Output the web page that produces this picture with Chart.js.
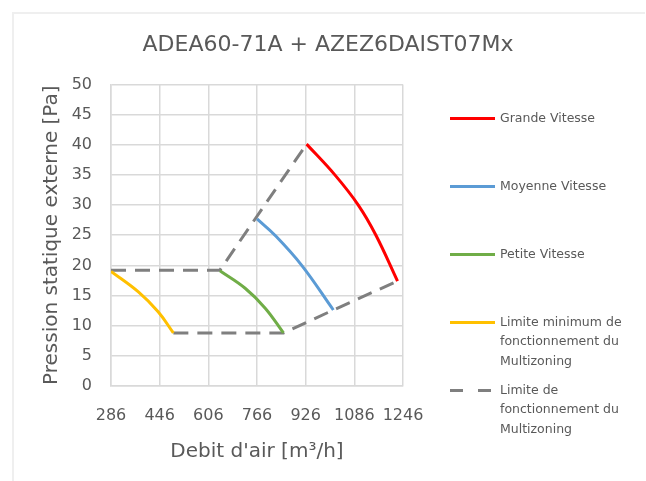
<!DOCTYPE html>
<html>
<head>
<meta charset="utf-8">
<script src="https://cdn.jsdelivr.net/npm/chart.js@4/dist/chart.umd.min.js"></script>
<style>
  html, body { margin: 0; padding: 0; background: #ffffff; }
  #wrap { position: relative; width: 646px; height: 481px; overflow: hidden; }
  #frame { position: absolute; left: 12px; top: 12px; width: 631px; height: 480px;
           border-top: 2px solid #efefef; border-left: 2px solid #efefef; }
  #c { position: absolute; left: 0; top: 0; }
</style>
</head>
<body>
<div id="wrap">
  <div id="frame"></div>
  <canvas id="c" width="646" height="481"></canvas>
</div>
<script>
// ---- data ----
const chartTitle = 'ADEA60-71A + AZEZ6DAIST07Mx';
const xAxisTitle = 'Debit d\'air [m³/h]';
const yAxisTitle = 'Pression statique externe [Pa]';
const xTickValues = [286, 446, 606, 766, 926, 1086, 1246];
const yTickValues = [0, 5, 10, 15, 20, 25, 30, 35, 40, 45, 50];

const grandeX = [929, 1022, 1099, 1157, 1228];
const grandeY = [40.1, 35.0, 30.0, 25.0, 17.4];
const moyenneX = [766, 825, 913, 1017];
const moyenneY = [27.7, 25.0, 20.0, 12.6];
const petiteX = [644, 727, 793, 853];
const petiteY = [19.1, 16.2, 12.9, 8.8];
const minimumX = [286, 376, 441, 491];
const minimumY = [19.0, 15.6, 12.3, 8.8];
const limiteHautX = [286, 644, 929];
const limiteHautY = [19.2, 19.2, 40.1];
const limiteBasX = [491, 853, 1017, 1228];
const limiteBasY = [8.8, 8.8, 12.6, 17.4];

const seriesLabels = [
  'Grande Vitesse',
  'Moyenne Vitesse',
  'Petite Vitesse',
  'Limite minimum de\nfonctionnement du\nMultizoning',
  'Limite de\nfonctionnement du\nMultizoning'
];

const textColor = '#595959';
const gridColor = '#d9d9d9';
const FONT = '"DejaVu Sans", sans-serif';

function pts(xs, ys) { return xs.map((x, i) => ({ x: x, y: ys[i] })); }

function curve(label, xs, ys, color) {
  return {
    label: label, data: pts(xs, ys), borderColor: color, backgroundColor: color,
    borderWidth: 3, pointRadius: 0, showLine: true, fill: false,
    tension: 0.4, yAxisID: 'y', xAxisID: 'x'
  };
}
function dashed(label, xs, ys, legend) {
  return {
    label: label, data: pts(xs, ys), borderColor: '#7f7f7f', backgroundColor: '#7f7f7f',
    borderWidth: 3, borderDash: [15, 9], pointRadius: 0, showLine: true, fill: false,
    tension: 0, inLegend: legend, yAxisID: 'y', xAxisID: 'x'
  };
}

const datasets = [
  curve(seriesLabels[0], grandeX, grandeY, '#ff0000'),
  curve(seriesLabels[1], moyenneX, moyenneY, '#5b9bd5'),
  curve(seriesLabels[2], petiteX, petiteY, '#70ad47'),
  curve(seriesLabels[3], minimumX, minimumY, '#ffc000'),
  dashed(seriesLabels[4], limiteHautX, limiteHautY, true),
  dashed(seriesLabels[4], limiteBasX, limiteBasY, false)
];

// custom right-side legend (multi-line labels)
const sideLegend = {
  id: 'sideLegend',
  afterDraw(chart) {
    const ctx = chart.ctx;
    const area = chart.chartArea;
    const x0 = area.right + 47, lineLen = 45, textX = x0 + lineLen + 5;
    const firstY = area.top + 34, step = 68, lineH = 19.5;
    ctx.save();
    ctx.font = '12.5px ' + FONT;
    ctx.fillStyle = textColor;
    ctx.textBaseline = 'middle';
    ctx.textAlign = 'left';
    let idx = 0;
    chart.data.datasets.forEach(ds => {
      if (ds.inLegend === false) return;
      const y = firstY + idx * step;
      ctx.beginPath();
      ctx.strokeStyle = ds.borderColor;
      ctx.lineWidth = 3;
      ctx.setLineDash(ds.borderDash ? [13, 15] : []);
      ctx.moveTo(x0, y);
      ctx.lineTo(x0 + lineLen, y);
      ctx.stroke();
      ds.label.split('\n').forEach((t, k) => ctx.fillText(t, textX, y + k * lineH));
      idx++;
    });
    ctx.restore();
  }
};

new Chart(document.getElementById('c'), {
  type: 'scatter',
  data: { datasets: datasets },
  options: {
    responsive: false,
    animation: false,
    layout: { padding: { left: 10, right: 0, top: 0, bottom: 15 } },
    plugins: {
      legend: { display: false },
      tooltip: { enabled: false },
      title: {
        display: true, text: chartTitle, color: textColor,
        font: { family: FONT, size: 22, weight: 'normal' },
        padding: { top: 32, bottom: 26 }
      }
    },
    scales: {
      x: {
        type: 'linear', min: xTickValues[0], max: xTickValues[xTickValues.length - 1],
        afterBuildTicks: s => { s.ticks = xTickValues.map(v => ({ value: v })); },
        afterFit: s => { s.height = 80; },
        grid: { color: gridColor, lineWidth: 1.5, drawTicks: false },
        border: { color: gridColor, width: 1.5 },
        ticks: { color: textColor, padding: 20, maxRotation: 0, autoSkip: false,
                 font: { family: FONT, size: 16 }, callback: v => String(v) },
        title: { display: true, text: xAxisTitle, color: textColor,
                 font: { family: FONT, size: 20 }, padding: { top: 0, bottom: 2 } }
      },
      y: {
        position: 'left',
        min: yTickValues[0], max: yTickValues[yTickValues.length - 1],
        afterBuildTicks: s => { s.ticks = yTickValues.map(v => ({ value: v })); },
        afterFit: s => { s.width = 101; },
        grid: { color: gridColor, lineWidth: 1.5, drawTicks: false },
        border: { color: gridColor, width: 1.5 },
        ticks: { color: textColor, padding: 19, font: { family: FONT, size: 16 } },
        title: { display: true, text: yAxisTitle, color: textColor,
                 font: { family: FONT, size: 20 }, padding: { top: 30, bottom: 0 } }
      },
      legendSpace: {
        type: 'linear', position: 'right', display: true,
        afterFit: s => { s.width = 243; },
        grid: { display: false, drawTicks: false },
        border: { display: false },
        ticks: { display: false }
      }
    }
  },
  plugins: [sideLegend]
});
</script>
</body>
</html>
